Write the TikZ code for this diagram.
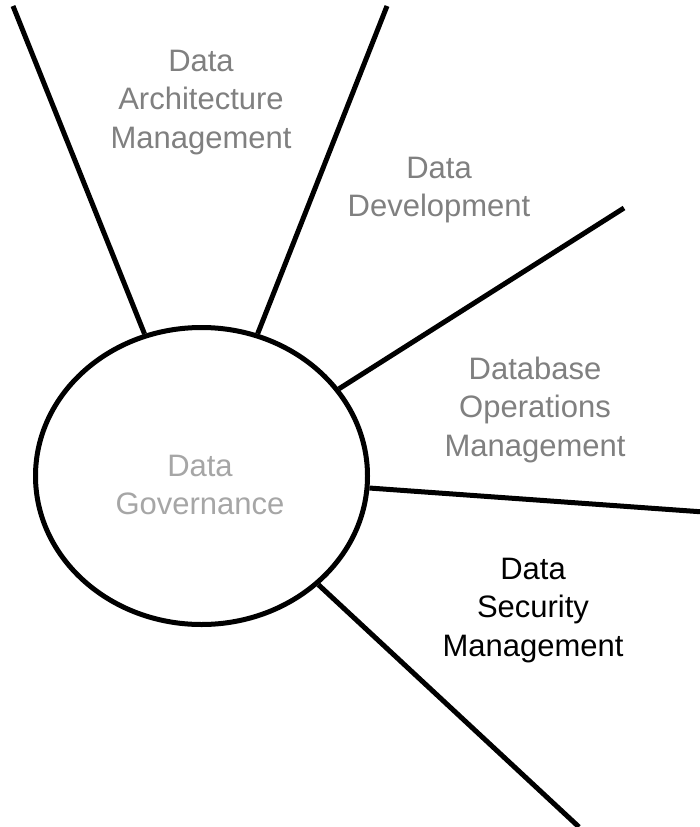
\documentclass[tikz,border=0pt]{standalone}
\usepackage{fontspec}
\setmainfont{Liberation Sans}
\usetikzlibrary{shapes.geometric}
\definecolor{labelgray}{RGB}{128,128,128}
\definecolor{govgray}{RGB}{166,166,166}
\begin{document}
\begin{tikzpicture}[x=1pt,y=-1pt,
  spoke/.style={line width=5pt,black},
  area/.style={align=center,inner sep=0pt,font=\fontsize{31}{38.5}\selectfont,text=labelgray}]
\useasboundingbox[fill=white] (0,0) rectangle (699,827);
\node[ellipse,draw,line width=5pt,minimum width=332pt,minimum height=297pt,inner sep=0pt] (gov) at (201.5,476) {};
\node[area,text=govgray] (govtext) at (200,485) {Data\\Governance};
\coordinate (e1) at (13,6);
\coordinate (e2) at (387,6);
\coordinate (e3) at (624,208);
\coordinate (e4) at (704,512);
\coordinate (e5) at (579,827);
\foreach \e in {e1,e2,e3,e4,e5} \draw[spoke] (gov) -- (\e);
\node[area] (arch) at (201,102.5) {Data\\Architecture\\Management};
\node[area] (dev) at (439,190) {Data\\Development};
\node[area] (dbops) at (535,409.5) {Database\\Operations\\Management};
\node[area,text=black] (sec) at (533,610.5) {Data\\Security\\Management};
\end{tikzpicture}
\end{document}
